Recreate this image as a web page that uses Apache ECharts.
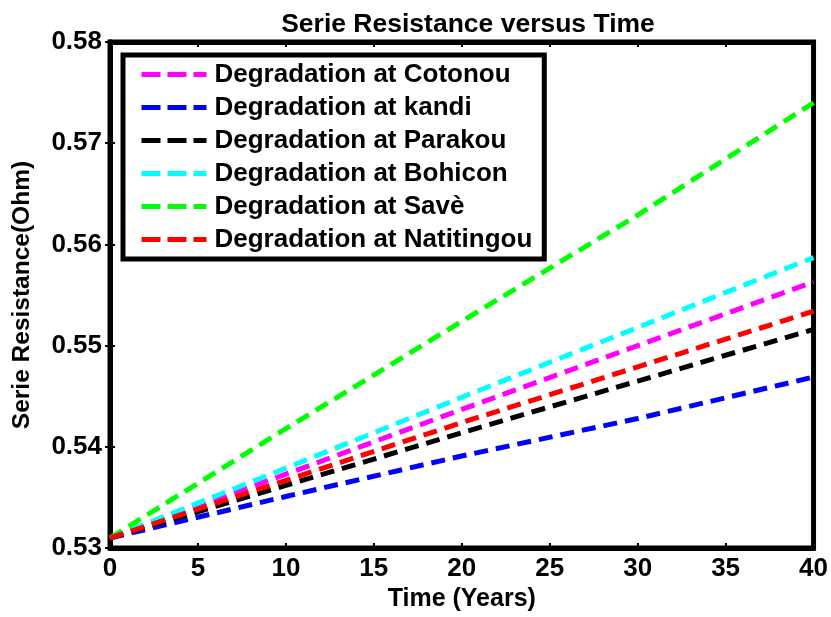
<!DOCTYPE html>
<html>
<head>
<meta charset="utf-8">
<script src="https://cdn.jsdelivr.net/npm/echarts@6/dist/echarts.min.js"></script>
<style>html,body{margin:0;padding:0;background:#fff}#c{width:831px;height:617px}</style>
</head>
<body>
<div id="c"></div>
<script>
const years = [0, 10, 20, 30, 40];
const cotonou    = [0.531, 0.5373, 0.5437, 0.5500, 0.5563];
const kandi      = [0.531, 0.5351, 0.5391, 0.5428, 0.5469];
const parakou    = [0.531, 0.5362, 0.5414, 0.5465, 0.5516];
const bohicon    = [0.531, 0.5379, 0.5449, 0.5518, 0.5587];
const save       = [0.531, 0.5418, 0.5524, 0.5629, 0.5740];
const natitingou = [0.531, 0.5367, 0.5424, 0.5479, 0.5534];
const seriesNames = ['Degradation at Cotonou','Degradation at kandi','Degradation at Parakou','Degradation at Bohicon','Degradation at Savè','Degradation at Natitingou'];
const seriesData = [cotonou, kandi, parakou, bohicon, save, natitingou];
const colors = ['#ff00ff','#0000ff','#000000','#00ffff','#00ff00','#ff0000'];

const font = 'Liberation Sans, Arial, sans-serif';
const chart = echarts.init(document.getElementById('c'));
const series = seriesNames.map((n, i) => ({
  name: n, type: 'line', showSymbol: false, symbol: 'none',
  data: years.map((y, j) => [y, seriesData[i][j]]),
  lineStyle: { color: colors[i], width: 5, type: [14, 8] },
  itemStyle: { color: colors[i] },
  z: 3
}));
const axisCommon = {
  axisLine: { show: true, lineStyle: { color: '#000', width: 5 } },
  axisTick: { show: true, inside: true, length: 5, lineStyle: { color: '#000', width: 2 } },
  splitLine: { show: false }
};
chart.setOption({
  animation: false,
  backgroundColor: '#fff',
  title: {
    text: 'Serie Resistance versus Time', left: 463, top: 6, textAlign: 'center',
    textStyle: { fontFamily: font, fontWeight: 'bold', fontSize: 26.5, color: '#000' }
  },
  grid: { left: 110, right: 14, top: 42, bottom: 68, show: true, borderColor: '#000', borderWidth: 5 },
  legend: {
    orient: 'vertical', left: 123, top: 55,
    backgroundColor: '#fff', borderColor: '#000', borderWidth: 5,
    padding: [6, 12, 6, 16], itemWidth: 65, itemHeight: 12, itemGap: 6,
    itemStyle: { opacity: 0 },
    lineStyle: { width: 5, type: [19, 7], cap: 'butt' },
    textStyle: { fontFamily: font, fontWeight: 'bold', fontSize: 26, lineHeight: 27, color: '#000', padding: [0, 0, 0, 3] },
    data: seriesNames
  },
  xAxis: [{
    type: 'value', min: 0, max: 40, interval: 5, position: 'bottom',
    name: 'Time (Years)', nameLocation: 'middle', nameGap: 30,
    nameTextStyle: { fontFamily: font, fontWeight: 'bold', fontSize: 25, color: '#000' },
    axisLabel: { fontFamily: font, fontWeight: 'bold', fontSize: 26, color: '#000', margin: 8 },
    ...axisCommon
  }, {
    type: 'value', min: 0, max: 40, interval: 5, position: 'top',
    axisLabel: { show: false }, ...axisCommon
  }],
  yAxis: [{
    type: 'value', min: 0.53, max: 0.58, interval: 0.01, position: 'left',
    name: 'Serie Resistance(Ohm)', nameLocation: 'middle', nameGap: 75,
    nameTextStyle: { fontFamily: font, fontWeight: 'bold', fontSize: 24.5, color: '#000' },
    axisLabel: { fontFamily: font, fontWeight: 'bold', fontSize: 26, color: '#000', margin: 8,
      formatter: v => v.toFixed(2) },
    ...axisCommon
  }, {
    type: 'value', min: 0.53, max: 0.58, interval: 0.01, position: 'right',
    axisLabel: { show: false }, ...axisCommon
  }],
  series: series
});
</script>
</body>
</html>
